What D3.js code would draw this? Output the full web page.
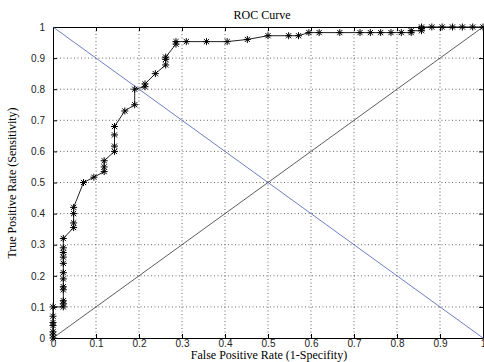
<!DOCTYPE html>
<html>
<head>
<meta charset="utf-8">
<script src="https://cdn.jsdelivr.net/npm/d3@7"></script>
<style>
  body { margin: 0; background: #fff; }
  svg { display: block; }
</style>
</head>
<body>
<svg id="chart"></svg>
<script>
// ROC points
var fpr = [0, 0, 0, 0, 0, 0, 0,
  0.024, 0.024, 0.024, 0.024, 0.024, 0.024, 0.024, 0.024, 0.024, 0.024, 0.024, 0.024,
  0.048, 0.048, 0.048, 0.048,
  0.071, 0.095, 0.119, 0.119, 0.119, 0.143, 0.143, 0.143, 0.143, 0.167, 0.190, 0.190,
  0.214, 0.214, 0.238, 0.262, 0.262, 0.262, 0.286, 0.286, 0.310, 0.357, 0.405, 0.452,
  0.500, 0.548, 0.571, 0.595, 0.619, 0.667, 0.714, 0.738, 0.762, 0.786, 0.810, 0.833,
  0.833, 0.857, 0.857, 0.857, 0.881, 0.905, 0.929, 0.952, 0.976, 1];
var tpr = [0, 0.01, 0.02, 0.04, 0.05, 0.07, 0.10,
  0.10, 0.11, 0.12, 0.155, 0.165, 0.19, 0.21, 0.24, 0.26, 0.275, 0.29, 0.32,
  0.355, 0.37, 0.40, 0.42,
  0.50, 0.517, 0.535, 0.55, 0.57, 0.60, 0.617, 0.653, 0.68, 0.73, 0.75, 0.80,
  0.808, 0.817, 0.85, 0.878, 0.896, 0.903, 0.945, 0.953, 0.953, 0.953, 0.953, 0.96,
  0.972, 0.972, 0.972, 0.982, 0.982, 0.982, 0.982, 0.982, 0.982, 0.982, 0.982, 0.982,
  0.988, 0.988, 0.995, 1, 1, 1, 1, 1, 1, 1];
var ticks = [0, 0.1, 0.2, 0.3, 0.4, 0.5, 0.6, 0.7, 0.8, 0.9, 1];
var tickLabels = ["0", "0.1", "0.2", "0.3", "0.4", "0.5", "0.6", "0.7", "0.8", "0.9", "1"];

var width = 484, height = 362;
var pLeft = 53, pRight = 483, pTop = 27, pBottom = 338;

var svg = d3.select("#chart")
  .attr("width", width)
  .attr("height", height);

var x = d3.scaleLinear().domain([0, 1]).range([pLeft, pRight]);
var y = d3.scaleLinear().domain([0, 1]).range([pBottom, pTop]);

// dotted grid
svg.selectAll(".gx")
  .data(ticks.slice(1, -1))
  .enter()
  .append("line")
  .attr("x1", function(d){ return x(d); })
  .attr("x2", function(d){ return x(d); })
  .attr("y1", pTop)
  .attr("y2", pBottom)
  .attr("stroke", "#444")
  .attr("stroke-width", 0.8)
  .attr("stroke-dasharray", "1,2.5");
svg.selectAll(".gy")
  .data(ticks.slice(1, -1))
  .enter()
  .append("line")
  .attr("y1", function(d){ return y(d); })
  .attr("y2", function(d){ return y(d); })
  .attr("x1", pLeft)
  .attr("x2", pRight)
  .attr("stroke", "#444")
  .attr("stroke-width", 0.8)
  .attr("stroke-dasharray", "1,2.5");

// axes with inward ticks on all four sides
var fmt = function(d){ return tickLabels[ticks.indexOf(d)]; };
var gb = svg.append("g").attr("transform", "translate(0," + pBottom + ")")
  .call(d3.axisBottom(x).tickValues(ticks).tickFormat(fmt).tickSizeInner(-4).tickSizeOuter(0).tickPadding(2));
var gl = svg.append("g").attr("transform", "translate(" + pLeft + ",0)")
  .call(d3.axisLeft(y).tickValues(ticks).tickFormat(fmt).tickSizeInner(-4).tickSizeOuter(0).tickPadding(8));
var gt = svg.append("g").attr("transform", "translate(0," + pTop + ")")
  .call(d3.axisTop(x).tickValues(ticks).tickFormat("").tickSizeInner(-4).tickSizeOuter(0));
var gr = svg.append("g").attr("transform", "translate(" + pRight + ",0)")
  .call(d3.axisRight(y).tickValues(ticks).tickFormat("").tickSizeInner(-4).tickSizeOuter(0));
[gb, gl, gt, gr].forEach(function(g){
  g.select(".domain").attr("stroke", "#000").attr("stroke-width", 1);
  g.selectAll(".tick line").attr("stroke", "#000");
  g.selectAll("text")
    .attr("font-family", "Liberation Sans, Arial, sans-serif")
    .attr("font-size", "10px")
    .attr("fill", "#222");
});

// reference diagonals
svg.append("line")
  .attr("x1", x(0)).attr("y1", y(0))
  .attr("x2", x(1)).attr("y2", y(1))
  .attr("stroke", "#333")
  .attr("stroke-width", 0.8);
svg.append("line")
  .attr("x1", x(0)).attr("y1", y(1))
  .attr("x2", x(1)).attr("y2", y(0))
  .attr("stroke", "#4a5cb5")
  .attr("stroke-width", 0.8);

// ROC curve
var pts = fpr.map(function(d, i){ return [d, tpr[i]]; });
var line = d3.line()
  .x(function(d){ return x(d[0]); })
  .y(function(d){ return y(d[1]); });
svg.append("path")
  .datum(pts)
  .attr("d", line)
  .attr("fill", "none")
  .attr("stroke", "#222")
  .attr("stroke-width", 1);

// asterisk markers
var r = 3.5, rd = 2.6;
svg.selectAll(".mark")
  .data(pts)
  .enter()
  .append("path")
  .attr("transform", function(d){ return "translate(" + x(d[0]) + "," + y(d[1]) + ")"; })
  .attr("d", "M" + (-r) + ",0H" + r + "M0," + (-r) + "V" + r +
    "M" + (-rd) + "," + (-rd) + "L" + rd + "," + rd +
    "M" + (-rd) + "," + rd + "L" + rd + "," + (-rd))
  .attr("stroke", "#000")
  .attr("stroke-width", 1)
  .attr("fill", "none");

// texts
svg.append("text")
  .text("ROC Curve")
  .attr("x", 262)
  .attr("y", 19)
  .attr("text-anchor", "middle")
  .attr("font-family", "Liberation Serif, Times New Roman, serif")
  .attr("font-size", "12px")
  .attr("fill", "#000");
svg.append("text")
  .text("False Positive Rate (1-Specifity)")
  .attr("x", 269)
  .attr("y", 359)
  .attr("text-anchor", "middle")
  .attr("font-family", "Liberation Serif, Times New Roman, serif")
  .attr("font-size", "12px")
  .attr("fill", "#000");
svg.append("text")
  .text("True Positive Rate (Sensitivity)")
  .attr("transform", "translate(16,183) rotate(-90)")
  .attr("text-anchor", "middle")
  .attr("font-family", "Liberation Serif, Times New Roman, serif")
  .attr("font-size", "12px")
  .attr("fill", "#000");
</script>
</body>
</html>
